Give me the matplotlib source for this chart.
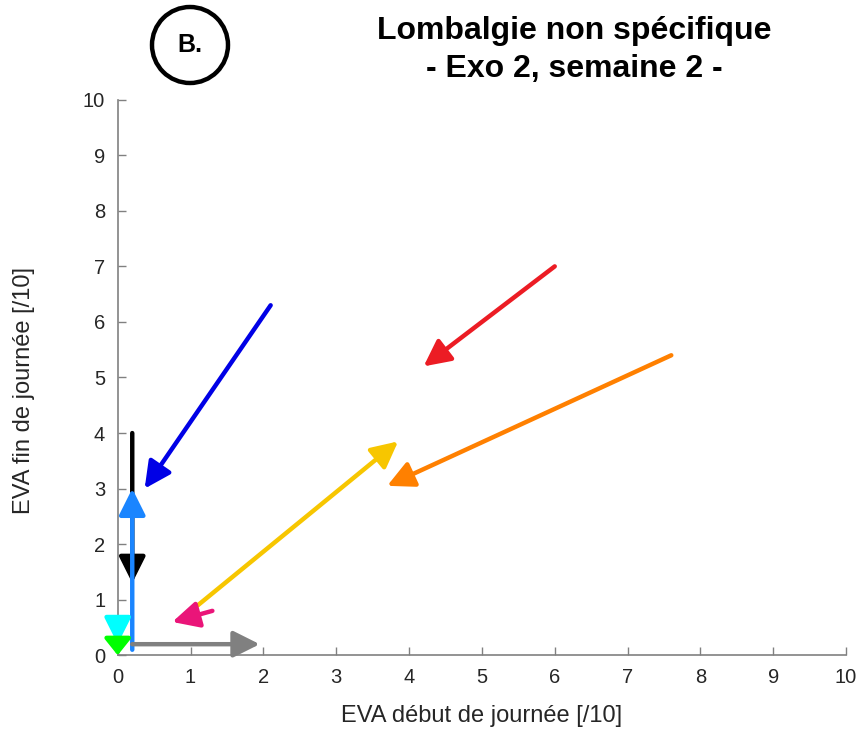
import matplotlib
matplotlib.use("agg")
import matplotlib.pyplot as plt
from matplotlib.patches import Circle

plt.rcParams["font.family"] = ["Liberation Sans", "DejaVu Sans"]

# arrows: start (x0, y0) -> end (x1, y1)
x_start = [6.0, 7.6, 1.1, 1.3, 2.1, 0.2, 0.2, 0.2, 0.0, 0.0]
y_start = [7.0, 5.4, 0.9, 0.8, 6.3, 4.0, 0.1, 0.2, 0.62, 0.25]
x_end = [4.2, 3.7, 3.85, 0.75, 0.37, 0.2, 0.2, 1.95, 0.0, 0.0]
y_end = [5.2, 3.05, 3.85, 0.6, 3.0, 1.3, 3.0, 0.2, 0.2, 0.0]
colors = ["#ec1c24", "#ff8000", "#f7c600", "#ea1579", "#0000e6",
          "#000000", "#1a85ff", "#808080", "#00ffff", "#00ff00"]

ticks = list(range(0, 11))

fig = plt.figure(figsize=(8.59, 7.33), dpi=100)
ax = fig.add_axes([0.137, 0.106, 0.848, 0.758])
ax.set_xlim(0, 10)
ax.set_ylim(0, 10)
ax.set_xticks(ticks)
ax.set_yticks(ticks)
ax.tick_params(direction="in", colors="#808080", labelcolor="#262626",
               labelsize=14.5, length=6, width=1, pad=9)
for side in ["top", "right"]:
    ax.spines[side].set_visible(False)
for side in ["left", "bottom"]:
    ax.spines[side].set_color("#808080")
    ax.spines[side].set_linewidth(1.2)

for xs, ys, xe, ye, c in zip(x_start, y_start, x_end, y_end, colors):
    hl = 0.5 if c == "#00ff00" else 0.8
    ax.annotate("", xy=(xe, ye), xytext=(xs, ys),
                arrowprops=dict(arrowstyle=f"-|>,head_length={hl},head_width=0.4",
                                mutation_scale=20, color=c, lw=3.2,
                                shrinkA=0, shrinkB=0),
                annotation_clip=False)

ax.set_xlabel("EVA début de journée [/10]", fontsize=17, color="#262626")
ax.set_ylabel("EVA fin de journée [/10]", fontsize=17, color="#262626")
ax.xaxis.set_label_coords(0.5, -0.09)
ax.yaxis.set_label_coords(-0.113, 0.476)

fig.text(0.669, 0.958, "Lombalgie non spécifique", ha="center", va="center",
         fontsize=23, fontweight="bold")
fig.text(0.669, 0.906, "- Exo 2, semaine 2 -", ha="center", va="center",
         fontsize=23, fontweight="bold")

# circled panel letter
fig.patches.append(Circle((1.90, 7.33 - 0.45), 0.38, fill=False, lw=3.2,
                          edgecolor="black", transform=fig.dpi_scale_trans))
fig.text(1.90 / 8.59, (7.33 - 0.45) / 7.33, "B.", ha="center", va="center",
         fontsize=18, fontweight="bold")
fig.text(2.29 / 8.59, (7.33 - 0.47) / 7.33, ":", ha="center", va="center",
         fontsize=8)

fig.savefig("out.png", dpi=100, facecolor="white")
